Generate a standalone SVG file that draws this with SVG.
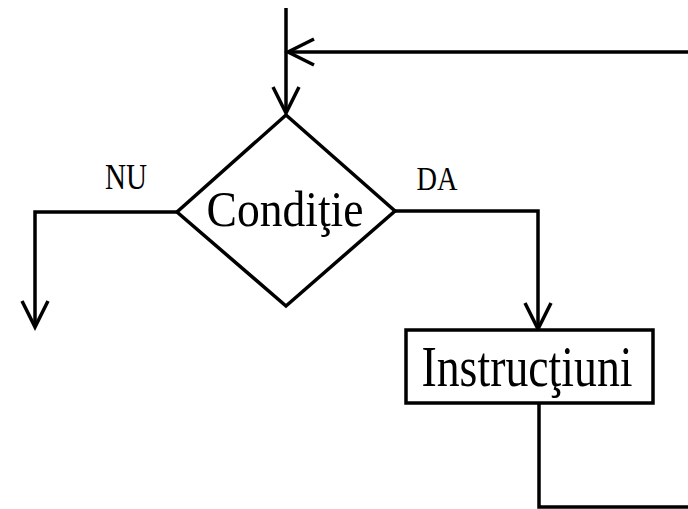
<svg xmlns="http://www.w3.org/2000/svg" width="688" height="509" viewBox="0 0 688 509">
<style>
.ln{fill:none;stroke:#000;stroke-width:3.5;stroke-linejoin:miter}
.shape{fill:#fff;stroke:#000;stroke-width:3.5}
.t{font-family:"Liberation Serif","Times New Roman",serif;fill:#000;text-anchor:middle}
</style>
<defs>
<marker id="arr" viewBox="0 0 30 30" refX="28" refY="15" markerWidth="30" markerHeight="30" markerUnits="userSpaceOnUse" orient="auto" overflow="visible">
<path d="M2,2 L28,15 L2,28" fill="none" stroke="#000" stroke-width="3.5"/>
</marker>
</defs>
<rect width="688" height="509" fill="#fff"/>
<g id="connectors">
<path class="ln" d="M286,8 V113" marker-end="url(#arr)"/>
<path class="ln" d="M688,52 H288" marker-end="url(#arr)"/>
<path class="ln" d="M177,212 H35 V327" marker-end="url(#arr)"/>
<path class="ln" d="M395,211 H538 V329" marker-end="url(#arr)"/>
<path class="ln" d="M539,403 V507 H688"/>
<text class="t" x="126" y="189" font-size="35" textLength="42" lengthAdjust="spacingAndGlyphs">NU</text>
<text class="t" x="437" y="190" font-size="33" textLength="41" lengthAdjust="spacingAndGlyphs">DA</text>
</g>
<g id="conditie">
<polygon class="shape" points="286,115 395,211 286,306 177,212"/>
<text class="t" x="285" y="226" font-size="51" textLength="157" lengthAdjust="spacingAndGlyphs">Condiţie</text>
</g>
<g id="instructiuni">
<rect class="shape" x="406" y="330" width="247" height="73"/>
<text class="t" x="527" y="386" font-size="57" textLength="211" lengthAdjust="spacingAndGlyphs">Instrucţiuni</text>
</g>
</svg>
